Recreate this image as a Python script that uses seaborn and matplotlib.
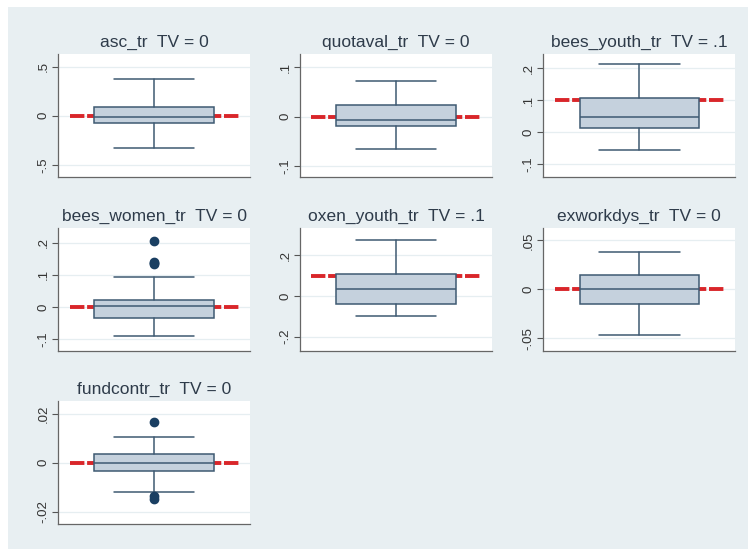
import matplotlib.pyplot as plt
import seaborn as sns
from matplotlib.patches import Rectangle

# values (Stata style box plots)
names=["asc_tr","quotaval_tr","bees_youth_tr","bees_women_tr","oxen_youth_tr","exworkdys_tr","fundcontr_tr"]
tv=[0,0,0.1,0,0.1,0,0]
tv_label=["0","0",".1","0",".1","0","0"]
q1=[-0.074,-0.020,0.013,-0.033,-0.040,-0.0148,-0.0036]
med=[-0.010,-0.008,0.049,0.002,0.034,0.0,0.0]
q3=[0.091,0.023,0.106,0.021,0.106,0.0145,0.0034]
whislo=[-0.328,-0.066,-0.055,-0.090,-0.100,-0.0469,-0.0119]
whishi=[0.378,0.071,0.213,0.092,0.275,0.0386,0.0106]
outliers=[[],[],[],[0.205,0.141,0.137,0.133],[],[],[0.0166,-0.0138,-0.0148]]
yticks=[[-0.5,0,0.5],[-0.1,0,0.1],[-0.1,0,0.1,0.2],[-0.1,0,0.1,0.2],[-0.2,0,0.2],[-0.05,0,0.05],[-0.02,0,0.02]]
ytick_labels=[["-.5","0",".5"],["-.1","0",".1"],["-.1","0",".1",".2"],["-.1","0",".1",".2"],["-.2","0",".2"],["-.05","0",".05"],["-.02","0",".02"]]
ylims=[(-0.62,0.63),(-0.122,0.127),(-0.139,0.245),(-0.137,0.247),(-0.27,0.335),(-0.0628,0.0628),(-0.0251,0.0251)]

sns.set_style("white")
plt.rcParams['font.family']=['Liberation Sans','DejaVu Sans']

bg="#e8eff2"
fig=plt.figure(figsize=(7.48,5.49),dpi=100)
fig.patch.set_facecolor("white")
fig.patches.append(Rectangle((8/748,0),1,1-7/549,transform=fig.transFigure,facecolor=bg,edgecolor="none",zorder=-10))

lefts=[0.0775,0.401,0.726]
bottoms=[0.678,0.361,0.0455]
w,h=0.257,0.224

for i,name in enumerate(names):
    r,c=divmod(i,3)
    ax=fig.add_axes([lefts[c],bottoms[r],w,h])
    ax.set_facecolor("white")
    ax.set_xlim(0,1)
    ax.set_ylim(*ylims[i])
    for t in yticks[i]:
        ax.axhline(t,color="#e6eef1",lw=0.9,zorder=0)
    ax.plot([0.06,0.94],[tv[i],tv[i]],color="#d9262a",lw=2.8,
            linestyle=(0,(3.7,0.7)),solid_capstyle="butt",dash_capstyle="butt",zorder=1)
    stats=[dict(med=med[i],q1=q1[i],q3=q3[i],whislo=whislo[i],whishi=whishi[i],fliers=outliers[i])]
    ax.bxp(stats,positions=[0.5],widths=0.62,patch_artist=True,capwidths=0.42,
           boxprops=dict(facecolor="#c5d1dd",edgecolor="#3e5a72",lw=1.1),
           medianprops=dict(color="#3e5a72",lw=1.1),
           whiskerprops=dict(color="#3e5a72",lw=1.1),
           capprops=dict(color="#3e5a72",lw=1.1),
           flierprops=dict(marker="o",markersize=6,markerfacecolor="#1a3f62",markeredgecolor="#1a3f62"),
           zorder=2)
    ax.set_xlim(0,1)
    ax.set_xticks([])
    ax.set_yticks(yticks[i])
    ax.set_yticklabels(ytick_labels[i],rotation=90,va="center",fontsize=9.5,color="#333333")
    ax.tick_params(axis="y",direction="out",length=4,color="#555555",pad=2,left=True)
    sns.despine(ax=ax)
    for s in ["left","bottom"]:
        ax.spines[s].set_color("#666666")
        ax.spines[s].set_linewidth(0.9)
    ax.set_title(f"{name}  TV = {tv_label[i]}",fontsize=12.5,color="#2e3b4a",pad=5)

fig.savefig("out.png",dpi=100,facecolor=fig.get_facecolor())
